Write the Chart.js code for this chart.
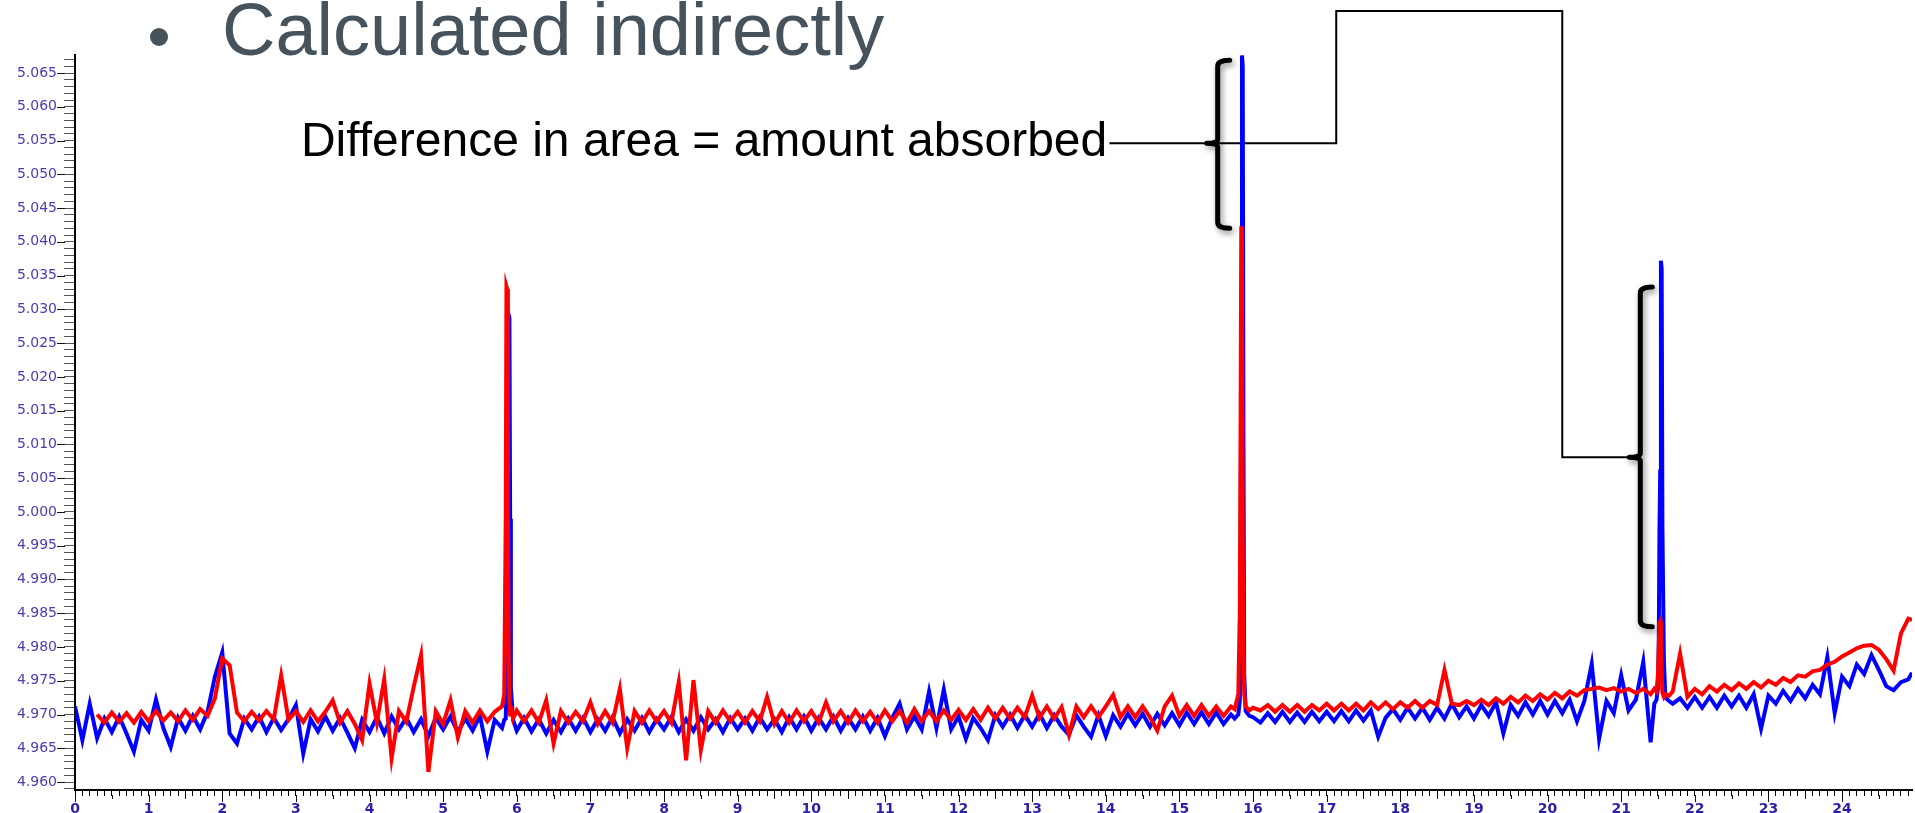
<!DOCTYPE html>
<html>
<head>
<meta charset="utf-8">
<title>Calculated indirectly</title>
<script src="https://cdn.jsdelivr.net/npm/chart.js@4.4.1/dist/chart.umd.min.js"></script>
<style>
  html, body { margin: 0; padding: 0; background: #fff; overflow: hidden; }
  #trace { display: block; }
</style>
</head>
<body>
<canvas id="trace" width="1915" height="813"></canvas>
<script>
// Retention time (min) shared by both traces, finer steps around the three peaks
const times = [
  0, 0.1, 0.2, 0.3, 0.4, 0.5, 0.6, 0.7, 0.8, 0.9,
  1, 1.1, 1.2, 1.3, 1.4, 1.5, 1.6, 1.7, 1.8, 1.9,
  2, 2.1, 2.2, 2.3, 2.4, 2.5, 2.6, 2.7, 2.8, 2.9,
  3, 3.1, 3.2, 3.3, 3.4, 3.5, 3.6, 3.7, 3.8, 3.9,
  4, 4.1, 4.2, 4.3, 4.4, 4.5, 4.6, 4.7, 4.8, 4.9,
  5, 5.1, 5.2, 5.3, 5.4, 5.5, 5.6, 5.7,
  5.8, 5.83, 5.85, 5.86, 5.87, 5.88, 5.89, 5.9, 5.91, 5.92, 5.95, 6,
  6.1, 6.2, 6.3, 6.4, 6.5, 6.6, 6.7, 6.8, 6.9,
  7, 7.1, 7.2, 7.3, 7.4, 7.5, 7.6, 7.7, 7.8, 7.9,
  8, 8.1, 8.2, 8.3, 8.4, 8.5, 8.6, 8.7, 8.8, 8.9,
  9, 9.1, 9.2, 9.3, 9.4, 9.5, 9.6, 9.7, 9.8, 9.9,
  10, 10.1, 10.2, 10.3, 10.4, 10.5, 10.6, 10.7, 10.8, 10.9,
  11, 11.1, 11.2, 11.3, 11.4, 11.5, 11.6, 11.7, 11.8, 11.9,
  12, 12.1, 12.2, 12.3, 12.4, 12.5, 12.6, 12.7, 12.8, 12.9,
  13, 13.1, 13.2, 13.3, 13.4, 13.5, 13.6, 13.7, 13.8, 13.9,
  14, 14.1, 14.2, 14.3, 14.4, 14.5, 14.6, 14.7, 14.8, 14.9,
  15, 15.1, 15.2, 15.3, 15.4, 15.5, 15.6, 15.7,
  15.75, 15.8, 15.82, 15.83, 15.84, 15.85, 15.86, 15.87, 15.88, 15.9, 15.95, 16,
  16.1, 16.2, 16.3, 16.4, 16.5, 16.6, 16.7, 16.8, 16.9,
  17, 17.1, 17.2, 17.3, 17.4, 17.5, 17.6, 17.7, 17.8, 17.9,
  18, 18.1, 18.2, 18.3, 18.4, 18.5, 18.6, 18.7, 18.8, 18.9,
  19, 19.1, 19.2, 19.3, 19.4, 19.5, 19.6, 19.7, 19.8, 19.9,
  20, 20.1, 20.2, 20.3, 20.4, 20.5, 20.6, 20.7, 20.8, 20.9,
  21, 21.1, 21.2, 21.3, 21.4,
  21.45, 21.48, 21.5, 21.51, 21.52, 21.53, 21.54, 21.55, 21.56, 21.58, 21.6, 21.65, 21.7,
  21.8, 21.9,
  22, 22.1, 22.2, 22.3, 22.4, 22.5, 22.6, 22.7, 22.8, 22.9,
  23, 23.1, 23.2, 23.3, 23.4, 23.5, 23.6, 23.7, 23.8, 23.9,
  24, 24.1, 24.2, 24.3, 24.4, 24.5, 24.6, 24.7, 24.8, 24.9, 24.95
];

// Blue trace (signal)
const blueSignal = [
  4.9712, 4.9662, 4.9716, 4.9665, 4.9694, 4.9674, 4.9697, 4.9672, 4.9645, 4.9692,
  4.9676, 4.9722, 4.9680, 4.9652, 4.9695, 4.9676, 4.9698, 4.9678, 4.9704, 4.9756,
  4.9792, 4.9672, 4.9657, 4.9694, 4.9678, 4.9697, 4.9674, 4.9695, 4.9677, 4.9693,
  4.9714, 4.9642, 4.9693, 4.9675, 4.9697, 4.9676, 4.9695, 4.9673, 4.9650, 4.9692,
  4.9674, 4.9696, 4.9672, 4.9697, 4.9678, 4.9695, 4.9674, 4.9693, 4.9668, 4.9695,
  4.9678, 4.9697, 4.9674, 4.9694, 4.9676, 4.9698, 4.9645, 4.9692,
  4.9680, 4.9692, 4.9694, 4.9730, 4.9990, 5.0005, 5.0292, 5.0288, 4.9990, 4.9740, 4.9692, 4.9676,
  4.9695, 4.9675, 4.9693, 4.9672, 4.9692, 4.9674, 4.9694, 4.9676, 4.9695,
  4.9674, 4.9693, 4.9676, 4.9696, 4.9672, 4.9693, 4.9676, 4.9695, 4.9674, 4.9693,
  4.9678, 4.9696, 4.9674, 4.9693, 4.9676, 4.9696, 4.9678, 4.9693, 4.9674, 4.9695,
  4.9678, 4.9694, 4.9676, 4.9696, 4.9678, 4.9693, 4.9674, 4.9696, 4.9678, 4.9697,
  4.9676, 4.9695, 4.9678, 4.9697, 4.9676, 4.9695, 4.9678, 4.9697, 4.9676, 4.9695,
  4.9668, 4.9695, 4.9716, 4.9678, 4.9697, 4.9678, 4.9734, 4.9680, 4.9737, 4.9678,
  4.9697, 4.9664, 4.9695, 4.9680, 4.9662, 4.9699, 4.9682, 4.9700, 4.9680, 4.9699,
  4.9682, 4.9701, 4.9680, 4.9699, 4.9682, 4.9670, 4.9699, 4.9682, 4.9667, 4.9699,
  4.9668, 4.9699, 4.9682, 4.9701, 4.9684, 4.9701, 4.9682, 4.9701, 4.9684, 4.9702,
  4.9684, 4.9703, 4.9686, 4.9703, 4.9686, 4.9703, 4.9686, 4.9700,
  4.9694, 4.9700, 4.9720, 4.9800, 5.0300, 5.0676, 5.0660, 5.0100, 4.9760, 4.9705, 4.9698, 4.9696,
  4.9688, 4.9702, 4.9689, 4.9704, 4.9689, 4.9703, 4.9689, 4.9704, 4.9690,
  4.9704, 4.9690, 4.9705, 4.9690, 4.9706, 4.9691, 4.9706, 4.9667, 4.9695, 4.9708,
  4.9692, 4.9710, 4.9694, 4.9710, 4.9692, 4.9710, 4.9694, 4.9716, 4.9696, 4.9712,
  4.9694, 4.9714, 4.9698, 4.9718, 4.9672, 4.9714, 4.9698, 4.9718, 4.9700, 4.9720,
  4.9700, 4.9720, 4.9702, 4.9722, 4.9690, 4.9720, 4.9775, 4.9664, 4.9720, 4.9702,
  4.9758, 4.9706, 4.9722, 4.9778, 4.9659,
  4.9716, 4.9722, 4.9740, 4.9800, 4.9970, 5.0060, 5.0372, 5.0360, 4.9980, 4.9780, 4.9725, 4.9720, 4.9716,
  4.9724, 4.9710,
  4.9726, 4.9710, 4.9726, 4.9710, 4.9728, 4.9712, 4.9728, 4.9710, 4.9730, 4.9679,
  4.9728, 4.9716, 4.9735, 4.9720, 4.9738, 4.9724, 4.9744, 4.9730, 4.9785, 4.9702,
  4.9756, 4.9742, 4.9774, 4.9760, 4.9788, 4.9766, 4.9742, 4.9736, 4.9748, 4.9752, 4.9762
];

// Red trace (starts a little after zero)
const redSignal = [
  null, null, null, 4.9700, 4.9688, 4.9703, 4.9689, 4.9702, 4.9688, 4.9704,
  4.9690, 4.9705, 4.9691, 4.9703, 4.9690, 4.9706, 4.9692, 4.9708, 4.9698, 4.9724,
  4.9783, 4.9773, 4.9703, 4.9690, 4.9704, 4.9691, 4.9705, 4.9693, 4.9758, 4.9692,
  4.9705, 4.9689, 4.9706, 4.9690, 4.9704, 4.9721, 4.9688, 4.9705, 4.9686, 4.9662,
  4.9746, 4.9688, 4.9752, 4.9635, 4.9705, 4.9689, 4.9741, 4.9788, 4.9615, 4.9705,
  4.9686, 4.9721, 4.9666, 4.9705, 4.9688, 4.9706, 4.9690, 4.9704,
  4.9712, 4.9730, 4.9990, 5.0334, 5.0330, 4.9995, 4.9790, 4.9722, 4.9700, 4.9712, 4.9694, 4.9706,
  4.9690, 4.9706, 4.9688, 4.9721, 4.9657, 4.9705, 4.9688, 4.9704, 4.9690,
  4.9718, 4.9686, 4.9705, 4.9688, 4.9738, 4.9650, 4.9705, 4.9688, 4.9706, 4.9690,
  4.9705, 4.9688, 4.9748, 4.9632, 4.9751, 4.9647, 4.9705, 4.9688, 4.9706, 4.9690,
  4.9704, 4.9688, 4.9705, 4.9690, 4.9726, 4.9686, 4.9705, 4.9688, 4.9706, 4.9690,
  4.9705, 4.9688, 4.9718, 4.9690, 4.9705, 4.9688, 4.9706, 4.9690, 4.9704, 4.9688,
  4.9706, 4.9690, 4.9705, 4.9688, 4.9708, 4.9690, 4.9705, 4.9690, 4.9706, 4.9692,
  4.9707, 4.9692, 4.9708, 4.9692, 4.9710, 4.9694, 4.9710, 4.9694, 4.9710, 4.9696,
  4.9728, 4.9695, 4.9712, 4.9694, 4.9711, 4.9670, 4.9712, 4.9696, 4.9712, 4.9696,
  4.9712, 4.9729, 4.9696, 4.9712, 4.9696, 4.9712, 4.9696, 4.9676, 4.9712, 4.9728,
  4.9698, 4.9714, 4.9698, 4.9714, 4.9698, 4.9712, 4.9698, 4.9712,
  4.9708, 4.9730, 4.9850, 5.0100, 5.0423, 5.0380, 4.9950, 4.9800, 4.9730, 4.9712, 4.9706, 4.9710,
  4.9706, 4.9714, 4.9704, 4.9714, 4.9704, 4.9714, 4.9704, 4.9714, 4.9706,
  4.9716, 4.9706, 4.9716, 4.9706, 4.9716, 4.9706, 4.9718, 4.9708, 4.9718, 4.9708,
  4.9718, 4.9710, 4.9720, 4.9710, 4.9720, 4.9714, 4.9766, 4.9716, 4.9714, 4.9720,
  4.9714, 4.9722, 4.9714, 4.9724, 4.9716, 4.9726, 4.9718, 4.9728, 4.9720, 4.9730,
  4.9722, 4.9732, 4.9724, 4.9734, 4.9728, 4.9736, 4.9738, 4.9740, 4.9736, 4.9739,
  4.9734, 4.9738, 4.9732, 4.9738, 4.9730,
  4.9738, 4.9734, 4.9760, 4.9800, 4.9836, 4.9838, 4.9800, 4.9760, 4.9732, 4.9726, 4.9730, 4.9728, 4.9734,
  4.9790, 4.9726,
  4.9738, 4.9730, 4.9742, 4.9734, 4.9744, 4.9736, 4.9746, 4.9738, 4.9748, 4.9740,
  4.9750, 4.9744, 4.9754, 4.9748, 4.9758, 4.9756, 4.9764, 4.9766, 4.9774, 4.9778,
  4.9786, 4.9792, 4.9798, 4.9802, 4.9803, 4.9796, 4.9782, 4.9765, 4.9820, 4.9842, 4.9840
];

// Tick labels shown on the axes
const yTickLabels = ['4.960', '4.965', '4.970', '4.975', '4.980', '4.985', '4.990', '4.995',
  '5.000', '5.005', '5.010', '5.015', '5.020', '5.025', '5.030', '5.035', '5.040', '5.045',
  '5.050', '5.055', '5.060', '5.065'];
const xTickLabels = ['0', '1', '2', '3', '4', '5', '6', '7', '8', '9', '10', '11', '12',
  '13', '14', '15', '16', '17', '18', '19', '20', '21', '22', '23', '24'];

// Slide text and the bracket callout (positions in data units)
const slideTitle = 'Calculated indirectly';
const noteText = 'Difference in area = amount absorbed';
const noteAnchor = { x: 14.02, y: 5.0546 };
const connector = [[14.05, 5.0546], [17.13, 5.0546], [17.13, 5.0742], [20.2, 5.0742], [20.2, 5.0081], [21.08, 5.0081]];
const brackets = [
  { x: 15.52, top: 5.0669, bottom: 5.0420, mid: 5.0546 },
  { x: 21.26, top: 5.0333, bottom: 4.9830, mid: 5.0081 }
];

if (blueSignal.length !== times.length || redSignal.length !== times.length) {
  console.error('length mismatch', times.length, blueSignal.length, redSignal.length);
}

function toPoints(values) {
  return times.map((t, i) => ({ x: t, y: values[i] }));
}

// minor ticks every 0.001 on y and 0.1 on x
function yMinorTicks() {
  const ticks = [];
  for (let k = 4959; k <= 5067; k++) ticks.push({ value: k / 1000 });
  return ticks;
}
function xMinorTicks() {
  const ticks = [];
  for (let k = 0; k <= 249; k++) ticks.push({ value: k / 10 });
  return ticks;
}

// longer marks for labelled ticks
const axisMarks = {
  id: 'axisMarks',
  afterDraw(chart) {
    const { ctx, chartArea, scales: { x, y } } = chart;
    ctx.save();
    ctx.strokeStyle = '#111';
    ctx.lineWidth = 1;
    ctx.beginPath();
    y.ticks.forEach(t => {
      if (yTickLabels.includes(t.value.toFixed(3))) {
        const py = Math.round(y.getPixelForValue(t.value)) + 0.5;
        ctx.moveTo(chartArea.left - 18, py);
        ctx.lineTo(chartArea.left - 10, py);
      }
    });
    x.ticks.forEach(t => {
      const k = Math.round(t.value * 10);
      if (k % 5 === 0) {
        const px = Math.round(x.getPixelForValue(t.value)) + 0.5;
        ctx.moveTo(px, chartArea.bottom + 5);
        ctx.lineTo(px, chartArea.bottom + (k % 10 === 0 ? 12 : 9));
      }
    });
    ctx.stroke();
    ctx.restore();
  }
};

// connector lines behind the traces
const calloutLines = {
  id: 'calloutLines',
  beforeDatasetsDraw(chart) {
    const { ctx, scales: { x, y } } = chart;
    ctx.save();
    ctx.strokeStyle = '#000';
    ctx.lineWidth = 2;
    ctx.beginPath();
    connector.forEach(([cx, cy], i) => {
      const px = x.getPixelForValue(cx);
      const py = y.getPixelForValue(cy);
      if (i === 0) ctx.moveTo(px, py); else ctx.lineTo(px, py);
    });
    ctx.stroke();
    ctx.restore();
  }
};

function drawBracket(ctx, px, top, bottom, mid) {
  ctx.save();
  ctx.strokeStyle = '#000';
  ctx.lineWidth = 5;
  ctx.lineJoin = 'round';
  ctx.lineCap = 'round';
  ctx.shadowColor = 'rgba(0,0,0,0.45)';
  ctx.shadowBlur = 6;
  ctx.shadowOffsetX = 2;
  ctx.shadowOffsetY = 3;
  ctx.beginPath();
  ctx.moveTo(px + 12, top);
  ctx.quadraticCurveTo(px, top, px, top + 6);
  ctx.lineTo(px, mid - 4);
  ctx.quadraticCurveTo(px, mid, px - 11, mid);
  ctx.quadraticCurveTo(px, mid, px, mid + 4);
  ctx.lineTo(px, bottom - 6);
  ctx.quadraticCurveTo(px, bottom, px + 12, bottom);
  ctx.stroke();
  ctx.restore();
}

const callout = {
  id: 'callout',
  afterDraw(chart) {
    const { ctx, scales: { x, y } } = chart;
    brackets.forEach(b => {
      drawBracket(ctx, x.getPixelForValue(b.x), y.getPixelForValue(b.top),
        y.getPixelForValue(b.bottom), y.getPixelForValue(b.mid));
    });
    ctx.save();
    ctx.fillStyle = '#000';
    ctx.font = '48px "Liberation Sans", Arial, sans-serif';
    ctx.textAlign = 'right';
    ctx.textBaseline = 'middle';
    ctx.fillText(noteText, x.getPixelForValue(noteAnchor.x), y.getPixelForValue(noteAnchor.y));

    // slide bullet line, cut off by the top edge
    ctx.fillStyle = '#46535d';
    ctx.font = '74px "Liberation Sans", Arial, sans-serif';
    ctx.textAlign = 'left';
    ctx.textBaseline = 'alphabetic';
    ctx.fillText(slideTitle, 222, 55);
    ctx.beginPath();
    ctx.arc(159, 37, 9, 0, Math.PI * 2);
    ctx.fill();
    ctx.restore();
  }
};

const ctx = document.getElementById('trace').getContext('2d');
new Chart(ctx, {
  type: 'line',
  data: {
    datasets: [
      {
        label: 'Blue',
        data: toPoints(blueSignal),
        borderColor: '#0000ff',
        borderWidth: 4,
        pointRadius: 0,
        tension: 0,
        order: 1
      },
      {
        label: 'Red',
        data: toPoints(redSignal),
        borderColor: '#ff0000',
        borderWidth: 4,
        pointRadius: 0,
        tension: 0,
        order: 0
      }
    ]
  },
  options: {
    responsive: false,
    animation: false,
    layout: { padding: { top: 55, right: 3, left: 0, bottom: 0 } },
    plugins: {
      legend: { display: false },
      tooltip: { enabled: false }
    },
    scales: {
      x: {
        type: 'linear',
        min: 0,
        max: 24.95,
        bounds: 'data',
        afterBuildTicks: scale => { scale.ticks = xMinorTicks(); },
        afterFit: scale => { scale.height = 23; },
        border: { color: '#000', width: 2 },
        grid: { drawOnChartArea: false, tickLength: 6, tickColor: '#000', tickWidth: 1 },
        ticks: {
          autoSkip: false,
          maxRotation: 0,
          minRotation: 0,
          padding: 5,
          color: '#2a1fa6',
          font: { family: 'DejaVu Sans', size: 14, weight: 'bold' },
          callback: value => (xTickLabels.includes(String(value)) ? String(value) : '')
        }
      },
      y: {
        type: 'linear',
        min: 4.95882,
        max: 5.06767,
        bounds: 'data',
        afterBuildTicks: scale => { scale.ticks = yMinorTicks(); },
        afterFit: scale => { scale.width = 75; },
        border: { color: '#000', width: 2 },
        grid: { drawOnChartArea: false, tickLength: 11, tickColor: '#555', tickWidth: 1 },
        ticks: {
          autoSkip: false,
          padding: 7,
          color: '#4b3cb4',
          font: { family: 'DejaVu Sans', size: 14 },
          callback: value => {
            const s = value.toFixed(3);
            return yTickLabels.includes(s) ? s : '';
          }
        }
      }
    }
  },
  plugins: [calloutLines, axisMarks, callout]
});
</script>
</body>
</html>
